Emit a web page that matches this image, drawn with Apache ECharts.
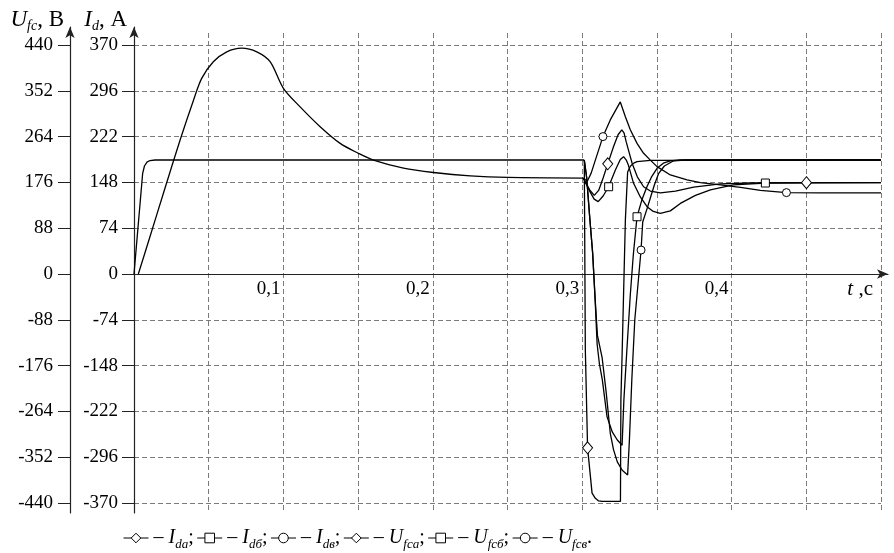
<!DOCTYPE html>
<html><head><meta charset="utf-8">
<script src="https://cdn.jsdelivr.net/npm/echarts@6/dist/echarts.min.js"></script>
<style>html,body{margin:0;padding:0;background:#fff}#c{width:894px;height:553px}</style>
</head><body><div id="c"></div>
<script>
// ---- data (t in s; Id in A on the Id axis, Ufc in V on the Ufc axis) ----
const seriesNames = ['Ida','Idb','Idv','Ufca','Ufcb','Ufcv'];
const xTickValues = [0.1, 0.2, 0.3, 0.4];
const xTickLabels = ['0,1', '0,2', '0,3', '0,4'];

// common start-up part (identical for all three phases), up to the switching instant
// (Id stays at 0 on the time axis until t = 0.0029 s)
const idStart = [[0.0029,0],[0.0100,55],[0.0200,133],[0.0308,216],[0.0400,282],[0.0453,316],[0.0531,343],[0.0621,359],[0.0721,365],[0.0822,359],[0.0911,343],[0.1,300],[0.1112,270],[0.1246,238],[0.138,211],[0.1502,195],[0.1603,184],[0.1804,171],[0.2005,164],[0.2251,158.5],[0.2503,156],[0.3007,155]];
const ufcStart = [[0,0],[0.0058,193.5],[0.0070,207.5],[0.0087,215],[0.0107,218],[0.0141,219],[0.3014,219]];

// transients after the switching instant
const idA = [[0.3050,136],[0.3081,127],[0.3110,135],[0.3140,155],[0.3171,178],[0.3210,206],[0.3240,225],[0.3265,233],[0.3280,228],[0.3295,213],[0.3334,179],[0.3369,157],[0.3411,141],[0.3456,134],[0.3523,131],[0.3624,134],[0.3746,140.5],[0.3925,145.5],[0.4126,147],[0.4501,147.5],[0.5,147.5]];
const idB = [[0.3050,134],[0.3080,121],[0.3107,117],[0.3140,126],[0.3177,141],[0.3222,168],[0.3255,185],[0.3277,189.5],[0.3295,184],[0.3309,176],[0.3344,146.5],[0.3389,124.5],[0.3434,108.7],[0.3476,101],[0.3523,98],[0.359,102],[0.3657,114],[0.3758,127],[0.3858,136],[0.4012,144],[0.4226,147],[0.5,147.5]];
const idV = [[0.3034,150],[0.3060,163],[0.3088,184],[0.3139,222],[0.3188,249],[0.3255,278],[0.3289,254],[0.3322,233],[0.3367,211],[0.3411,195],[0.3456,184],[0.3501,173.5],[0.359,160],[0.3702,152],[0.3791,147.5],[0.3925,144],[0.4059,140],[0.4193,135],[0.4367,131.5],[0.46,131],[0.5,131]];

const ufcA = [[0.3021,-146],[0.3036,-334],[0.3066,-421],[0.3088,-431],[0.3110,-436],[0.3133,-437],[0.3256,-437],[0.3259,-242],[0.3267,-156],[0.3289,104],[0.3304,196],[0.3322,207],[0.3345,213],[0.3367,216],[0.3456,218.5],[0.5,219]];
const ufcB = [[0.3030,185],[0.3050,110],[0.3070,40],[0.3085,-40],[0.3100,-135],[0.3115,-172],[0.3135,-204],[0.3166,-274],[0.3202,-304],[0.3235,-319],[0.3267,-329],[0.3279,-242],[0.3299,-146],[0.3322,-40],[0.3342,36.5],[0.3367,110],[0.3399,142],[0.3434,168],[0.3463,186],[0.3501,203],[0.3543,213],[0.359,217.5],[0.3657,219],[0.5,219]];
const ufcV = [[0.3030,185],[0.3050,110],[0.3070,40],[0.3085,-40],[0.3102,-118],[0.3133,-160],[0.3160,-226],[0.3188,-306],[0.3210,-338],[0.3235,-361],[0.3268,-377],[0.3304,-386],[0.3316,-319],[0.3332,-204],[0.3352,-88],[0.3376,-11.5],[0.3394,46],[0.3405,100],[0.3436,127],[0.3456,146],[0.3483,171],[0.3512,193.5],[0.3550,207.5],[0.3612,217.5],[0.369,219],[0.5,219]];

// times at which a marker is drawn
const marksIdA = [0.3171, 0.4501];
const marksIdB = [0.3177, 0.4226];
const marksIdV = [0.3139, 0.4367];
const marksUfcA = [0.3036];
const marksUfcB = [0.3367];
const marksUfcV = [0.3394];

// ---- chart ----
const FONT = "'Liberation Serif','Times New Roman',serif";
function richSet(size, sub){
  return {
    t:{fontFamily:FONT,fontSize:size,color:'#000',lineHeight:26},
    i:{fontFamily:FONT,fontSize:size,fontStyle:'italic',color:'#000',lineHeight:26},
    s:{fontFamily:FONT,fontSize:sub,fontStyle:'italic',color:'#000',lineHeight:11,verticalAlign:'bottom'}
  };
}
const legendText = {
  Ida:'{t|– }{i|I}{s|dа}{t|;}',
  Idb:'{t|– }{i|I}{s|dб}{t|;}',
  Idv:'{t|– }{i|I}{s|dв}{t|;}',
  Ufca:'{t|– }{i|U}{s|fcа}{t|;}',
  Ufcb:'{t|– }{i|U}{s|fcб}{t|;}',
  Ufcv:'{t|– }{i|U}{s|fcв}{t|.}'
};
const symSize = {diamond:[10,12], rect:[8,8], circle:[8,8]};
function build(arr, marks){
  return arr.map(p => marks.indexOf(p[0]) >= 0 ? {value:p} : {value:p, symbol:'none'});
}
const idJoin = idStart[idStart.length-1];
const ufcJoin = ufcStart[ufcStart.length-1];
const defs = [
  {data:[idJoin].concat(idA), marks:marksIdA, y:1, sym:'diamond'},
  {data:[idJoin].concat(idB), marks:marksIdB, y:1, sym:'rect'},
  {data:[idJoin].concat(idV), marks:marksIdV, y:1, sym:'circle'},
  {data:[ufcJoin].concat(ufcA), marks:marksUfcA, y:0, sym:'diamond'},
  {data:[ufcJoin].concat(ufcB), marks:marksUfcB, y:0, sym:'rect'},
  {data:[ufcJoin].concat(ufcV), marks:marksUfcV, y:0, sym:'circle'}
];
const AX = '#222';
const GRIDC = '#7a7a7a';
const labelStyle = {fontFamily:FONT, fontSize:19, color:'#000'};

const series = defs.map((d,i) => ({
  name:seriesNames[i], type:'line', xAxisIndex:0, yAxisIndex:d.y,
  data:build(d.data, d.marks),
  symbol:d.sym, symbolSize:symSize[d.sym], showSymbol:true, showAllSymbol:true,
  itemStyle:{color:'#fff', borderColor:'#000', borderWidth:1},
  lineStyle:{color:'#000', width:1.3},
  emphasis:{disabled:true}, silent:true
}));
series.unshift(
  {name:'Id 0–0,3', type:'line', xAxisIndex:0, yAxisIndex:1, data:idStart, smooth:0.3,
   symbol:'none', lineStyle:{color:'#000', width:1.3}, emphasis:{disabled:true}, silent:true},
  {name:'Ufc 0–0,3', type:'line', xAxisIndex:0, yAxisIndex:0, data:ufcStart,
   symbol:'none', lineStyle:{color:'#000', width:1.3}, emphasis:{disabled:true}, silent:true}
);

const chart = echarts.init(document.getElementById('c'), null, {renderer:'canvas'});
chart.setOption({
  animation:false,
  backgroundColor:'#fff',
  grid:[
    {left:134, top:45, width:747, height:458, outerBoundsMode:'none'},   // data
    {left:134, top:33, width:747, height:480, outerBoundsMode:'none'},   // vertical grid lines
    {left:134, top:45, width:754, height:458, outerBoundsMode:'none'},   // t axis line with arrow
    {left:134, top:27, width:747, height:486, outerBoundsMode:'none'},   // y axis lines with arrows
    {left:134, top:45, width:747, height:229, outerBoundsMode:'none'}    // t labels on the zero line
  ],
  xAxis:[
    {gridIndex:0, type:'value', min:0, max:0.5, interval:0.05,
     axisLine:{show:true, onZero:true, lineStyle:{color:AX, width:1.2}},
     axisTick:{show:false}, splitLine:{show:false}, axisLabel:{show:false}},
    {gridIndex:1, type:'value', min:0, max:0.5, interval:0.05,
     axisLine:{show:false}, axisTick:{show:false}, axisLabel:{show:false},
     splitLine:{show:true, lineStyle:{type:[5,3], color:GRIDC, width:1}}},
    {gridIndex:2, type:'value', min:0, max:1,
     axisLine:{show:true, onZero:true, symbol:['none','arrow'], symbolSize:[7,11], lineStyle:{color:AX, width:1.2}},
     axisTick:{show:false}, axisLabel:{show:false}, splitLine:{show:false}},
    {gridIndex:3, type:'value', min:0, max:1, show:false},
    {gridIndex:4, type:'value', min:0, max:0.5, interval:0.05, position:'bottom',
     axisLine:{show:false, onZero:false}, axisTick:{show:false}, splitLine:{show:false},
     axisLabel:Object.assign({margin:6, align:'right', padding:[0,3,0,0],
       formatter:function(v){
         for (let k=0;k<xTickValues.length;k++){ if (Math.abs(v-xTickValues[k])<1e-6) return xTickLabels[k]; }
         return '';
       }}, labelStyle),
     name:'{i|t}{t| ,с}', nameLocation:'end', nameGap:-8,
     nameTextStyle:{align:'right', verticalAlign:'top', padding:[2,0,0,0], rich:richSet(21,14)}}
  ],
  yAxis:[
    {gridIndex:0, type:'value', min:-440, max:440, interval:88, position:'left', offset:64,
     axisLine:{show:false, onZero:false}, axisTick:{show:true, length:12, lineStyle:{color:AX, width:1}},
     axisLabel:Object.assign({margin:17}, labelStyle), splitLine:{show:false}},
    {gridIndex:0, type:'value', min:-370, max:370, interval:74, position:'left', offset:0,
     axisLine:{show:false, onZero:false}, axisTick:{show:true, length:12, lineStyle:{color:AX, width:1}},
     axisLabel:Object.assign({margin:16}, labelStyle),
     splitLine:{show:true, lineStyle:{type:[5,3], color:GRIDC, width:1}}},
    {gridIndex:1, type:'value', min:-1, max:1, show:false},
    {gridIndex:2, type:'value', min:-1, max:1, show:false},
    {gridIndex:3, type:'value', min:0, max:1, position:'left', offset:64,
     axisLine:{show:true, onZero:false, symbol:['none','arrow'], symbolSize:[7,11], lineStyle:{color:AX, width:1.2}},
     axisTick:{show:false}, axisLabel:{show:false}, splitLine:{show:false},
     name:'{i|U}{s|fc}{t|, В}', nameLocation:'end', nameGap:7,
     nameTextStyle:{align:'right', verticalAlign:'middle', padding:[0,6,0,0], rich:richSet(23,14)}},
    {gridIndex:3, type:'value', min:0, max:1, position:'left', offset:0,
     axisLine:{show:true, onZero:false, symbol:['none','arrow'], symbolSize:[7,11], lineStyle:{color:AX, width:1.2}},
     axisTick:{show:false}, axisLabel:{show:false}, splitLine:{show:false},
     name:'{i|I}{s|d}{t|, А}', nameLocation:'end', nameGap:7,
     nameTextStyle:{align:'right', verticalAlign:'middle', padding:[0,7,0,0], rich:richSet(23,14)}},
    {gridIndex:4, type:'value', min:0, max:1, show:false}
  ],
  legend:{
    data:seriesNames, left:118, top:523, orient:'horizontal',
    itemWidth:25, itemHeight:12, itemGap:3, selectedMode:false,
    itemStyle:{color:'#fff', borderColor:'#000', borderWidth:1},
    lineStyle:{color:'#000', width:1},
    formatter:function(n){ return legendText[n]; },
    textStyle:{fontFamily:FONT, fontSize:20, color:'#000', rich:richSet(20,13)}
  },
  series: series
});
</script></body></html>
